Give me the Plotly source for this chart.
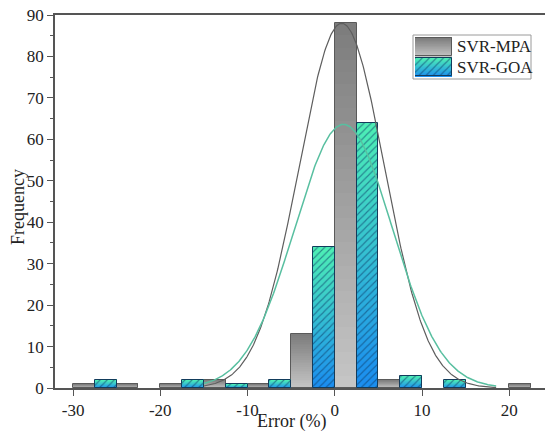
import numpy as np
import plotly.graph_objects as go

# ---------------- data ----------------
bin_starts = [-30, -25, -20, -15, -10, -5, 0, 5, 10, 15, 20]
mpa_counts = [1, 1, 1, 2, 1, 13, 88, 2, 0, 0, 1]
goa_counts = [2, 0, 2, 1, 2, 34, 64, 3, 2, 0, 0]
series_names = ["SVR-MPA", "SVR-GOA"]
# fitted normal curves (peak, mean, std)
mpa_fit = dict(peak=88.0, mu=0.8, sigma=4.9)
goa_fit = dict(peak=63.6, mu=1.0, sigma=5.6)
curve_span = [-15.0, 18.5]
x_ticks = [-30, -20, -10, 0, 10, 20]
x_tick_labels = ["-30", "-20", "-10", "0", "10", "20"]
y_ticks = [0, 10, 20, 30, 40, 50, 60, 70, 80, 90]

BIN_W = 5.0
BAR_W = 2.5
N_SLICES = 30
FONT = "Liberation Serif"


def hex_rgb(h):
    h = h.lstrip("#")
    return [int(h[i:i + 2], 16) for i in (0, 2, 4)]


def mix(c_bot, c_top, t):
    a, b = hex_rgb(c_bot), hex_rgb(c_top)
    r = [round(a[i] + (b[i] - a[i]) * t) for i in range(3)]
    return "rgb(%d,%d,%d)" % tuple(r)


MPA_STYLE = dict(bot="#c6c6c6", top="#7c7c7c", line="#5a5a5a", pattern=None)
GOA_STYLE = dict(bot="#1a8cf0", top="#4ef0b4", line="#123c5c", pattern=True)

fig = go.Figure()


def add_gradient_bars(xs, vals, style, xaxis="x", yaxis="y", base0=0.0):
    for k in range(N_SLICES):
        t = (k + 0.5) / N_SLICES
        fig.add_trace(go.Bar(
            x=xs, y=[v / N_SLICES for v in vals],
            base=[base0 + v * k / N_SLICES for v in vals],
            width=BAR_W if xaxis == "x" else 1.0,
            marker=dict(color=mix(style["bot"], style["top"], t), line=dict(width=0)),
            showlegend=False, hoverinfo="skip", xaxis=xaxis, yaxis=yaxis))
    pat = dict(shape="")
    if style["pattern"]:
        pat = dict(shape="/", fgcolor="#0b3a66", fgopacity=0.55, size=5,
                   solidity=0.22, fillmode="overlay")
    fig.add_trace(go.Bar(
        x=xs, y=vals, base=[base0] * len(vals),
        width=BAR_W if xaxis == "x" else 1.0,
        marker=dict(color="rgba(0,0,0,0)", line=dict(color=style["line"], width=1),
                    pattern=pat),
        showlegend=False, hoverinfo="skip", xaxis=xaxis, yaxis=yaxis))


mpa_x = [s + BAR_W / 2 for s, v in zip(bin_starts, mpa_counts) if v > 0]
mpa_v = [v for v in mpa_counts if v > 0]
goa_x = [s + BAR_W * 1.5 for s, v in zip(bin_starts, goa_counts) if v > 0]
goa_v = [v for v in goa_counts if v > 0]

add_gradient_bars(mpa_x, mpa_v, MPA_STYLE)
add_gradient_bars(goa_x, goa_v, GOA_STYLE)

# normal curves
xc = np.linspace(curve_span[0], curve_span[1], 400)
for fit, col, w in [(mpa_fit, "#5e5e5e", 1.2), (goa_fit, "#58bfa0", 1.5)]:
    yc = fit["peak"] * np.exp(-((xc - fit["mu"]) ** 2) / (2 * fit["sigma"] ** 2))
    fig.add_trace(go.Scatter(x=xc, y=yc, mode="lines",
                             line=dict(color=col, width=w),
                             showlegend=False, hoverinfo="skip"))

# legend swatches in an inset axis
add_gradient_bars([0.5], [0.94], MPA_STYLE, xaxis="x2", yaxis="y2", base0=1.03)
add_gradient_bars([0.5], [0.94], GOA_STYLE, xaxis="x2", yaxis="y2", base0=0.03)

W, H = 545, 431
L, R, T, B = 55, 0, 15, 43
pw, ph = W - L - R, H - T - B


def px2paper(xp, yp):
    return (xp - L) / pw, (H - B - yp) / ph


lx0, ly1 = px2paper(413, 35)
lx1, ly0 = px2paper(531, 79)
sx0, sy1 = px2paper(415, 37)
sx1, sy0 = px2paper(452, 77)

fig.add_shape(type="rect", xref="paper", yref="paper", x0=lx0, x1=lx1, y0=ly0, y1=ly1,
              line=dict(color="#9a9a9a", width=1), fillcolor="white", layer="below")

for i, name in enumerate(series_names):
    _, ty = px2paper(0, 47 + 20 * i)
    tx, _ = px2paper(455, 0)
    fig.add_annotation(x=tx, y=ty, xref="paper", yref="paper", text=name,
                       showarrow=False, xanchor="left", yanchor="middle",
                       font=dict(family=FONT, size=17, color="#222"))

# axis titles
ax_x, ax_y = px2paper(291, 421)
fig.add_annotation(x=ax_x, y=ax_y, xref="paper", yref="paper", text="Error (%)",
                   showarrow=False, xanchor="center", yanchor="middle",
                   font=dict(family=FONT, size=18, color="#222"))
ay_x, ay_y = px2paper(18, 207)
fig.add_annotation(x=ay_x, y=ay_y, xref="paper", yref="paper", text="Frequency",
                   showarrow=False, textangle=-90, xanchor="center", yanchor="middle",
                   font=dict(family=FONT, size=18, color="#222"))

fig.update_layout(
    width=W, height=H, margin=dict(l=L, r=R, t=T, b=B),
    paper_bgcolor="white", plot_bgcolor="white", barmode="overlay", bargap=0,
    showlegend=False,
    font=dict(family=FONT, size=17, color="#222"),
    xaxis=dict(range=[-32.07, 24.1], tickvals=x_ticks, ticktext=x_tick_labels,
               ticks="outside", ticklen=6,
               tickwidth=1.2, tickcolor="#555", showline=True, linecolor="#555",
               linewidth=1.5, mirror=True, showgrid=False, zeroline=False,
               tickfont=dict(family=FONT, size=17, color="#222")),
    yaxis=dict(range=[0, 90], tickvals=y_ticks, ticks="outside", ticklen=6,
               tickwidth=1.2, tickcolor="#555", showline=True, linecolor="#555",
               linewidth=1.5, showgrid=False, zeroline=False,
               minor=dict(dtick=5, ticks="outside", ticklen=3, tickcolor="#555"),
               tickfont=dict(family=FONT, size=17, color="#222")),
    xaxis2=dict(domain=[sx0, sx1], range=[0, 1], visible=False, anchor="y2",
                fixedrange=True),
    yaxis2=dict(domain=[sy0, sy1], range=[0, 2], visible=False, anchor="x2",
                fixedrange=True),
)

fig.write_html("out.html")
